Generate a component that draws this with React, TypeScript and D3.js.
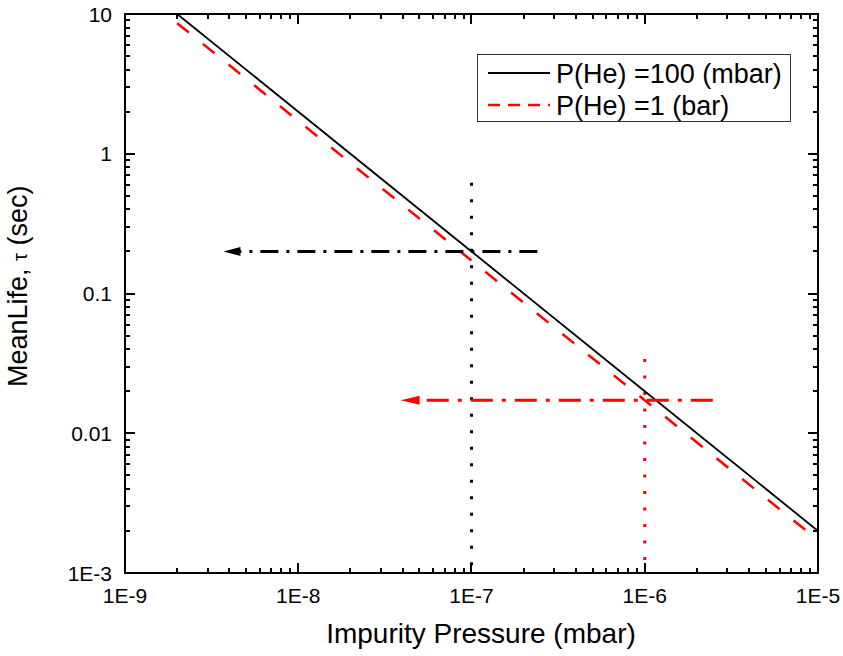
import React, { useRef, useEffect } from 'react';
import * as d3 from 'd3';

// decade ticks
const xTicks = [1e-9, 1e-8, 1e-7, 1e-6, 1e-5];
const xTickLabels = ['1E-9', '1E-8', '1E-7', '1E-6', '1E-5'];
const yTicks = [1e-3, 1e-2, 1e-1, 1, 10];
const yTickLabels = ['1E-3', '0.01', '0.1', '1', '10'];

// P(He) = 100 mbar
const pressure100mbar = [2e-9, 1e-7, 1e-6, 1e-5];
const tau100mbar = [10, 0.2, 0.02, 0.002];
// P(He) = 1 bar
const pressure1bar = [2e-9, 1e-7, 1e-6, 8.6e-6];
const tau1bar = [8.6, 0.172, 0.0172, 0.002];

const seriesNames = ['P(He) =100 (mbar)', 'P(He) =1 (bar)'];

// guide lines: vertical dotted + horizontal arrows
const markerPressure = [1e-7, 1e-6];
const markerTop = [0.62, 0.034];
const arrowY = [0.2, 0.0172];
const arrowFrom = [2.4e-7, 2.47e-6];
const arrowTo = [3.7e-9, 3.9e-8];
const markerColors = ['#000', '#ff0000'];

const FONT = '"Liberation Sans", Arial, sans-serif';

const App = () => {
    const ref = useRef(null);

    useEffect(() => {
        if (!ref.current) return;
        const svg = d3.select(ref.current);
        svg.selectAll('*').remove();

        const left = 125, right = 818, top = 14, bottom = 573;
        const x = d3.scaleLog().domain([1e-9, 1e-5]).range([left, right]);
        const y = d3.scaleLog().domain([1e-3, 10]).range([bottom, top]);

        const defs = svg.append('defs');
        defs.append('clipPath').attr('id', 'plotClip')
            .append('rect').attr('x', left).attr('y', top)
            .attr('width', right - left).attr('height', bottom - top);

        const g = svg.append('g').attr('clip-path', 'url(#plotClip)');

        // dotted verticals
        markerPressure.forEach((p, i) => {
            g.append('line')
                .attr('x1', x(p)).attr('x2', x(p))
                .attr('y1', y(markerTop[i])).attr('y2', y(1e-3))
                .attr('stroke', markerColors[i])
                .attr('stroke-width', 3)
                .attr('stroke-dasharray', '3,13.5');
        });

        // data lines
        const line = d3.line<number>()
            .x(d => d[0]).y(d => d[1]);
        const pts100 = pressure100mbar.map((p, i) => [x(p), y(tau100mbar[i])]);
        const pts1 = pressure1bar.map((p, i) => [x(p), y(tau1bar[i])]);

        g.append('path')
            .attr('d', line(pts1))
            .attr('fill', 'none')
            .attr('stroke', '#ff0000')
            .attr('stroke-width', 2.5)
            .attr('stroke-dasharray', '15,18');

        g.append('path')
            .attr('d', line(pts100))
            .attr('fill', 'none')
            .attr('stroke', '#000')
            .attr('stroke-width', 1.8);

        // dash-dot arrows
        arrowY.forEach((t, i) => {
            const yy = y(t);
            const x0 = x(arrowFrom[i]);
            const x1 = x(arrowTo[i]);
            const headLen = i === 0 ? 17 : 19;
            g.append('line')
                .attr('x1', x0).attr('x2', x1 + headLen - 2)
                .attr('y1', yy).attr('y2', yy)
                .attr('stroke', markerColors[i])
                .attr('stroke-width', 3)
                .attr('stroke-dasharray', i === 0 ? '18,8,3,8' : '22,9,4,9');
            g.append('path')
                .attr('d', `M${x1},${yy}L${x1 + headLen},${yy - 4.5}L${x1 + headLen},${yy + 4.5}Z`)
                .attr('fill', markerColors[i]);
        });

        // axes frame
        const ax = svg.append('g').attr('stroke', '#000').attr('stroke-width', 2);
        ax.append('rect')
            .attr('x', left).attr('y', top)
            .attr('width', right - left).attr('height', bottom - top)
            .attr('fill', 'none');

        const minorX = [];
        for (let d = -9; d < -5; d++) for (let k = 2; k <= 9; k++) minorX.push(k * Math.pow(10, d));
        const minorY = [];
        for (let d = -3; d < 1; d++) for (let k = 2; k <= 9; k++) minorY.push(k * Math.pow(10, d));

        const tickG = svg.append('g').attr('stroke', '#000').attr('stroke-width', 2);
        const xTickData = xTicks.map(v => ({ v, len: 10 })).concat(minorX.map(v => ({ v, len: 5 })));
        const yTickData = yTicks.map(v => ({ v, len: 10 })).concat(minorY.map(v => ({ v, len: 5 })));

        xTickData.forEach(t => {
            const xx = Math.round(x(t.v));
            tickG.append('line').attr('x1', xx).attr('x2', xx).attr('y1', bottom).attr('y2', bottom - t.len);
            tickG.append('line').attr('x1', xx).attr('x2', xx).attr('y1', top).attr('y2', top + t.len);
        });
        yTickData.forEach(t => {
            const yy = Math.round(y(t.v));
            tickG.append('line').attr('x1', left).attr('x2', left + t.len).attr('y1', yy).attr('y2', yy);
            tickG.append('line').attr('x1', right).attr('x2', right - t.len).attr('y1', yy).attr('y2', yy);
        });

        // tick labels
        svg.append('g').selectAll('text')
            .data(xTicks)
            .join('text')
            .attr('x', d => x(d))
            .attr('y', 603)
            .attr('text-anchor', 'middle')
            .style('font-family', FONT)
            .style('font-size', '21px')
            .text((d, i) => xTickLabels[i]);

        svg.append('g').selectAll('text')
            .data(yTicks)
            .join('text')
            .attr('x', 112)
            .attr('y', d => y(d) + 7.5)
            .attr('text-anchor', 'end')
            .style('font-family', FONT)
            .style('font-size', '21px')
            .text((d, i) => yTickLabels[i]);

        // axis titles
        svg.append('text')
            .attr('x', 481).attr('y', 643)
            .attr('text-anchor', 'middle')
            .style('font-family', FONT)
            .style('font-size', '28px')
            .text('Impurity Pressure (mbar)');

        const yt = svg.append('text')
            .attr('transform', 'translate(27,387) rotate(-90)')
            .attr('text-anchor', 'start')
            .style('font-family', FONT)
            .style('font-size', '27px');
        yt.append('tspan').text('MeanLife, ');
        yt.append('tspan').style('font-size', '20px').text('τ');
        yt.append('tspan').text(' (sec)');

        // legend
        const lg = svg.append('g');
        lg.append('rect')
            .attr('x', 477.5).attr('y', 54.5)
            .attr('width', 313).attr('height', 67)
            .attr('fill', '#fff')
            .attr('stroke', '#333')
            .attr('stroke-width', 1);
        const rowsY = [73, 105];
        seriesNames.forEach((name, i) => {
            lg.append('line')
                .attr('x1', 488).attr('x2', 550)
                .attr('y1', rowsY[i]).attr('y2', rowsY[i])
                .attr('stroke', i === 0 ? '#000' : '#ff0000')
                .attr('stroke-width', i === 0 ? 1.8 : 2.5)
                .attr('stroke-dasharray', i === 0 ? null : '12,8');
            lg.append('text')
                .attr('x', 556).attr('y', rowsY[i] + 9.5)
                .style('font-family', FONT)
                .style('font-size', '27px')
                .text(name);
        });
    }, []);

    return (
        <svg
            ref={ref}
            width={843}
            height={656}
            style={{ position: 'absolute', left: 0, top: 0, background: '#fff' }}
        />
    );
};

export default App;
